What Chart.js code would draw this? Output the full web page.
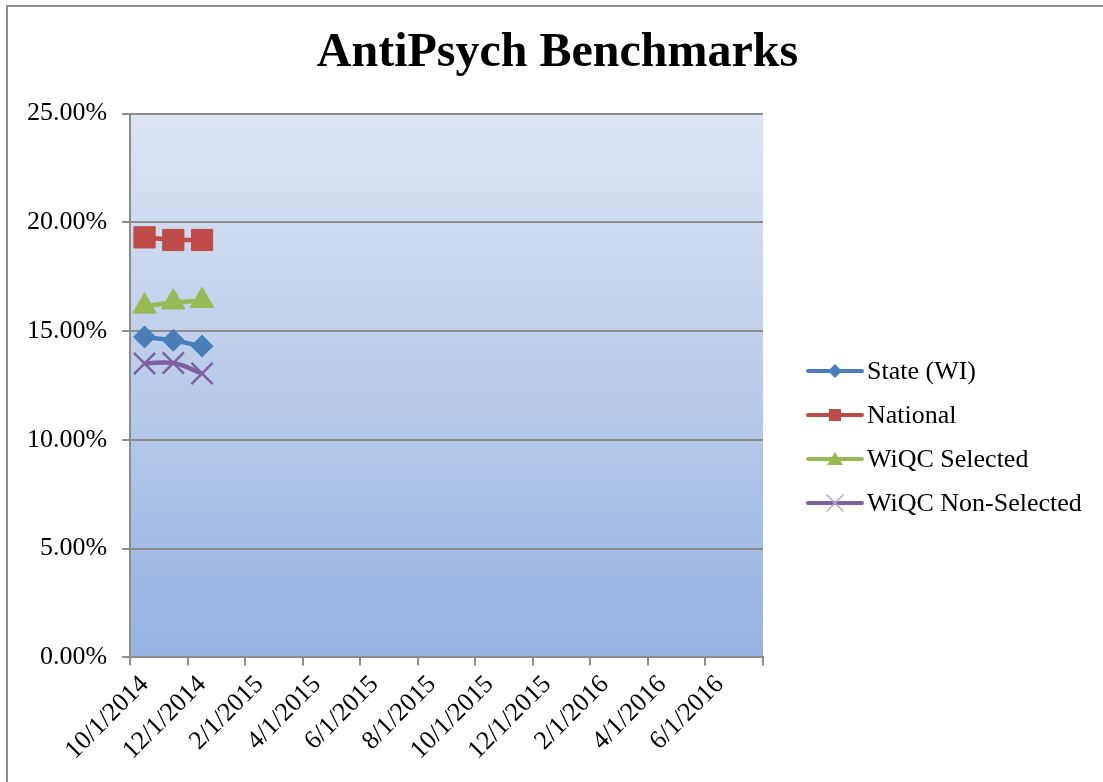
<!DOCTYPE html>
<html>
<head>
<meta charset="utf-8">
<script src="https://cdn.jsdelivr.net/npm/chart.js@4/dist/chart.umd.min.js"></script>
<style>
  html, body { margin: 0; padding: 0; background: #ffffff; }
  #wrap { width: 1103px; height: 782px; position: relative; }
</style>
</head>
<body>
<div id="wrap"><canvas id="c" width="1103" height="782"></canvas></div>
<script>
// ---- data ----
const months = ['10/1/2014','11/1/2014','12/1/2014','1/1/2015','2/1/2015','3/1/2015','4/1/2015','5/1/2015',
  '6/1/2015','7/1/2015','8/1/2015','9/1/2015','10/1/2015','11/1/2015','12/1/2015','1/1/2016',
  '2/1/2016','3/1/2016','4/1/2016','5/1/2016','6/1/2016','7/1/2016'];
const seriesNames = ['State (WI)', 'National', 'WiQC Selected', 'WiQC Non-Selected'];
const stateWI = [14.73, 14.58, 14.31];
const national = [19.31, 19.19, 19.19];
const wiqcSelected = [16.14, 16.33, 16.40];
const wiqcNonSelected = [13.51, 13.53, 13.05];
const yTicks = [0, 5, 10, 15, 20, 25];

const FONT = "'Liberation Serif', 'Times New Roman', serif";
const colors = ['#4A7EBB', '#BE4B48', '#98B954', '#7D60A0'];
const markerKinds = ['diamond', 'square', 'triangle', 'x'];

function drawLegendMarker(g, kind, color, cx, cy) {
  g.save();
  g.fillStyle = color; g.strokeStyle = color;
  g.beginPath();
  if (kind === 'diamond') {
    g.moveTo(cx, cy - 7); g.lineTo(cx + 7, cy); g.lineTo(cx, cy + 7); g.lineTo(cx - 7, cy); g.closePath(); g.fill();
  } else if (kind === 'square') {
    g.rect(cx - 6, cy - 6, 12, 12); g.fill();
  } else if (kind === 'triangle') {
    g.moveTo(cx, cy - 7); g.lineTo(cx + 8, cy + 6); g.lineTo(cx - 8, cy + 6); g.closePath(); g.fill();
  } else {
    g.lineWidth = 1.5; g.strokeStyle = '#B7A6D0';
    g.moveTo(cx - 8, cy - 8); g.lineTo(cx + 8, cy + 8); g.moveTo(cx + 8, cy - 8); g.lineTo(cx - 8, cy + 8); g.stroke();
  }
  g.restore();
}

const plotBg = {
  id: 'plotBg',
  beforeDraw(chart) {
    const {ctx, chartArea: a} = chart;
    ctx.save();
    ctx.fillStyle = '#ffffff';
    ctx.fillRect(0, 0, chart.width, chart.height);
    const gr = ctx.createLinearGradient(0, a.top, 0, a.bottom);
    gr.addColorStop(0, '#DDE5F3');
    gr.addColorStop(1, '#95B2E2');
    ctx.fillStyle = gr;
    ctx.fillRect(a.left, a.top, a.right - a.left, a.bottom - a.top);
    ctx.restore();
  },
  afterDraw(chart) {
    const ctx = chart.ctx;
    const a = chart.chartArea;
    ctx.save();
    // outer frame
    ctx.strokeStyle = '#8C8C8C';
    ctx.lineWidth = 2;
    ctx.beginPath();
    ctx.moveTo(7, chart.height); ctx.lineTo(7, 6); ctx.lineTo(chart.width, 6);
    ctx.stroke();
    // legend (line + marker sample, then label)
    const x0 = a.right + 45, x1 = a.right + 99, tx = a.right + 104;
    const yStart = 371, step = 44;
    ctx.font = '26px ' + FONT;
    ctx.textBaseline = 'middle';
    ctx.textAlign = 'left';
    chart.data.datasets.forEach((ds, i) => {
      const y = yStart + i * step;
      ctx.strokeStyle = ds.borderColor;
      ctx.lineWidth = 4;
      ctx.lineCap = 'round';
      ctx.beginPath(); ctx.moveTo(x0, y); ctx.lineTo(x1, y); ctx.stroke();
      drawLegendMarker(ctx, markerKinds[i], ds.borderColor, (x0 + x1) / 2, y);
      ctx.fillStyle = '#000000';
      ctx.fillText(ds.label, tx, y + 1);
    });
    ctx.restore();
  }
};

new Chart(document.getElementById('c'), {
  type: 'line',
  data: {
    labels: months,
    datasets: [
      { label: seriesNames[0], data: stateWI, borderColor: colors[0], backgroundColor: colors[0],
        borderWidth: 4.5, pointStyle: 'rectRot', pointRadius: 11, pointBorderWidth: 1, tension: 0 },
      { label: seriesNames[1], data: national, borderColor: colors[1], backgroundColor: colors[1],
        borderWidth: 4.5, pointStyle: 'rect', pointRadius: 15, pointBorderWidth: 1, tension: 0 },
      { label: seriesNames[2], data: wiqcSelected, borderColor: colors[2], backgroundColor: colors[2],
        borderWidth: 4.5, pointStyle: 'triangle', pointRadius: 13.5, pointBorderWidth: 1, tension: 0 },
      { label: seriesNames[3], data: wiqcNonSelected, borderColor: colors[3], backgroundColor: colors[3],
        borderWidth: 4.5, pointStyle: 'crossRot', pointRadius: 15, pointBorderWidth: 2.5, tension: 0.4 }
    ]
  },
  options: {
    responsive: false,
    animation: false,
    devicePixelRatio: 1,
    layout: { padding: { left: 12, right: 0, top: 0, bottom: 12 } },
    plugins: {
      title: {
        display: true,
        text: 'AntiPsych Benchmarks',
        color: '#000000',
        font: { family: FONT, size: 48, weight: 'bold' },
        padding: { top: 25, bottom: 31 },
        fullSize: true
      },
      legend: { display: false },
      tooltip: { enabled: false }
    },
    scales: {
      x: {
        type: 'category',
        offset: true,
        grid: {
          offset: true,
          drawOnChartArea: false,
          drawTicks: true,
          tickLength: 8,
          lineWidth: 2,
          color: (ctx) => (ctx.index === undefined || ctx.index % 2 === 0) ? '#8C8C8C' : 'rgba(0,0,0,0)'
        },
        border: { display: true, color: '#8C8C8C', width: 2 },
        ticks: {
          autoSkip: false,
          maxRotation: 45,
          minRotation: 45,
          padding: 4,
          color: '#000000',
          font: { family: FONT, size: 26 },
          callback: function (value, index) { return index % 2 === 0 ? months[index] : ''; }
        }
      },
      y: {
        min: 0,
        max: 25,
        afterBuildTicks(scale) { scale.ticks = yTicks.map(v => ({ value: v })); },
        grid: { color: '#8C8C8C', lineWidth: 2, tickLength: 8, drawTicks: true },
        border: { display: true, color: '#8C8C8C', width: 2 },
        ticks: {
          padding: 15,
          color: '#000000',
          font: { family: FONT, size: 26 },
          callback: (v) => Number(v).toFixed(2) + '%'
        }
      },
      legendSpace: {
        type: 'linear',
        position: 'right',
        display: true,
        grid: { display: false, drawTicks: false },
        border: { display: false },
        ticks: { display: false },
        afterFit(scale) { scale.width = 340; }
      }
    }
  },
  plugins: [plotBg]
});
</script>
</body>
</html>
